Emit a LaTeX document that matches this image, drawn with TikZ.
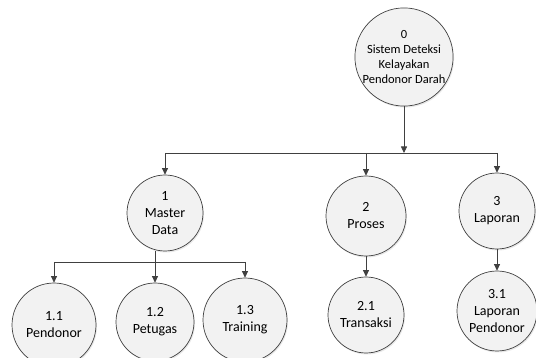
\documentclass[tikz,border=0pt]{standalone}
\usepackage{fontspec}
\setmainfont{Carlito}
\usetikzlibrary{arrows.meta,shadows}
\definecolor{linegray}{HTML}{404040}
\definecolor{procfill}{HTML}{F2F2F2}
\begin{document}
\begin{tikzpicture}[x=1pt, y=-1pt, line join=round, >={Triangle[length=6.5pt,width=6pt]},
	proc/.style={circle, draw=linegray, fill=procfill, line width=0.7pt, inner sep=0pt, align=center, font=\fontsize{14}{17}\selectfont, drop shadow={opacity=0.18, shadow xshift=1pt, shadow yshift=-1.5pt}},
	link/.style={draw=linegray, line width=0.8pt}]
	\useasboundingbox (0,0) rectangle (536,358);
	\coordinate (busA) at (0,153);
	\coordinate (busB) at (0,262);
	\node[proc, minimum size=98pt, font=\fontsize{12.5}{15}\selectfont] (n0) at (404,57) {0\\Sistem Deteksi\\Kelayakan\\Pendonor Darah};
	\node[proc, minimum size=76pt] (n1) at (165,213) {1\\Master\\Data};
	\node[proc, minimum size=80pt] (n2) at (366,216) {2\\Proses};
	\node[proc, minimum size=76pt] (n3) at (497,211) {3\\Laporan};
	\node[proc, minimum size=84pt] (n11) at (54,325) {1.1\\Pendonor};
	\node[proc, minimum size=78pt] (n12) at (155,322) {1.2\\Petugas};
	\node[proc, minimum size=84pt] (n13) at (245,320) {1.3\\Training};
	\node[proc, minimum size=76pt] (n21) at (366,315) {2.1\\Transaksi};
	\node[proc, minimum size=80pt] (n31) at (497,311) {3.1\\Laporan\\Pendonor};
	\draw[link,->] (n0) -- (n0 |- busA);
	\draw[link] (n1 |- busA) -- (n3 |- busA);
	\foreach \p in {n1,n2,n3}\draw[link,->] (\p |- busA) -- (\p);
	\draw[link] (n11 |- busB) -- (n13 |- busB);
	\draw[link,->] (n12 |- n1.south) -- (n12);
	\foreach \p in {n11,n13}\draw[link,->] (\p |- busB) -- (\p);
	\draw[link,->] (n2) -- (n21);
	\draw[link,->] (n3) -- (n31);
\end{tikzpicture}
\end{document}
